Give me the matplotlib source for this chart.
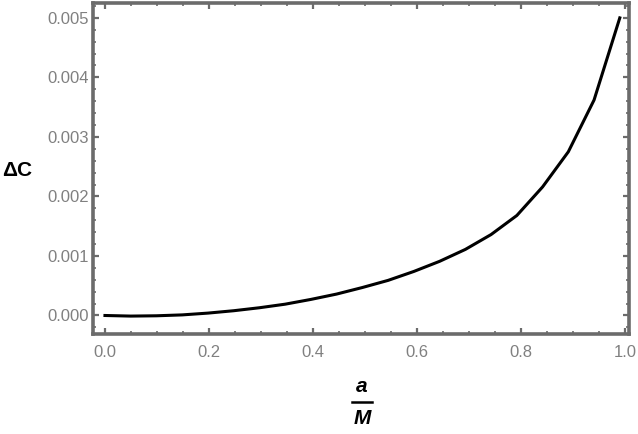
import matplotlib
matplotlib.use("Agg")
import matplotlib.pyplot as plt
from matplotlib.lines import Line2D
from matplotlib.ticker import MultipleLocator, FormatStrFormatter

# spin parameter a/M (21 samples up to 0.99) and the ratio difference ΔC
a_over_m = [0.0, 0.0495, 0.099, 0.1485, 0.198, 0.2475, 0.297, 0.3465, 0.396, 0.4455,
            0.495, 0.5445, 0.594, 0.6435, 0.693, 0.7425, 0.792, 0.8415, 0.891, 0.9405, 0.99]
delta_c = [0.0, -0.00001, -0.000005, 0.00001, 0.00004, 0.00008, 0.00013, 0.00019, 0.00027,
           0.00036, 0.00047, 0.00059, 0.00074, 0.00091, 0.00111, 0.00136, 0.00168, 0.00216,
           0.00275, 0.00362, 0.00500]

FRAME = "#6b6b6b"
LABEL = "#808080"

plt.rcParams.update({'font.family': ['Liberation Sans', 'DejaVu Sans']})

fig = plt.figure(figsize=(6.38, 4.34), dpi=100)
ax = fig.add_axes([93 / 638, 1 - 334 / 434, (629 - 93) / 638, (334 - 3) / 434])

ax.plot(a_over_m, delta_c, color="black", lw=2.2, solid_joinstyle="miter")

ax.set_xlim(-0.023, 1.0077)
ax.set_ylim(-0.000311, 0.00525)

ax.xaxis.set_major_locator(MultipleLocator(0.2))
ax.xaxis.set_minor_locator(MultipleLocator(0.05))
ax.yaxis.set_major_locator(MultipleLocator(0.001))
ax.yaxis.set_minor_locator(MultipleLocator(0.0002))
ax.xaxis.set_major_formatter(FormatStrFormatter('%.1f'))
ax.yaxis.set_major_formatter(FormatStrFormatter('%.3f'))

for s in ax.spines.values():
    s.set_color(FRAME)
    s.set_linewidth(2.6)

ax.tick_params(which="both", direction="in", top=True, right=True, color=FRAME,
               labelcolor=LABEL, labelsize=12)
ax.tick_params(which="major", length=4.5, width=1.6)
ax.tick_params(which="minor", length=2.5, width=1.2)
ax.tick_params(axis="x", which="major", pad=8)
ax.tick_params(axis="y", which="major", pad=3)

# axis labels in the Mathematica style: horizontal ΔC and a stacked a/M fraction
fig.text(2 / 638, 1 - 170 / 434, "ΔC", fontsize=15, fontweight="bold", ha="left", va="center")
fig.text(362 / 638, 1 - 386 / 434, "a", fontsize=15, fontweight="bold", style="italic",
         ha="center", va="center")
fig.add_artist(Line2D([352 / 638, 372 / 638], [1 - 402 / 434, 1 - 402 / 434],
                      transform=fig.transFigure, color="black", lw=1.8))
fig.text(362 / 638, 1 - 419 / 434, "M", fontsize=15, fontweight="bold", style="italic",
         ha="center", va="center")

fig.savefig("out.png", dpi=100)
